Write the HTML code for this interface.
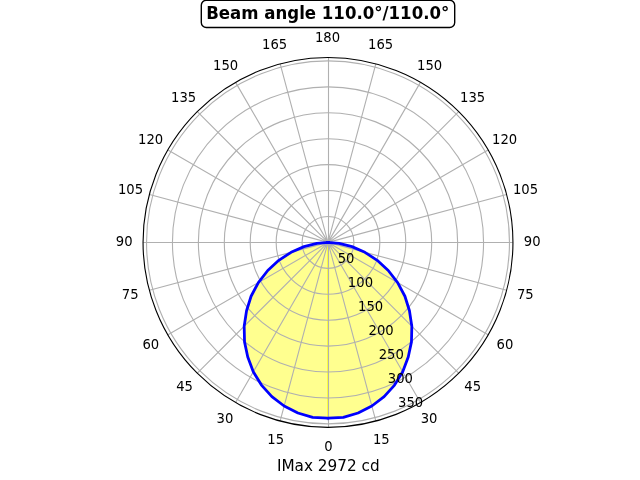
<!DOCTYPE html>
<html><head><meta charset="utf-8"><title>Beam angle</title>
<style>html,body{margin:0;padding:0;background:#fff}svg{display:block}text{font-family:"DejaVu Sans","Liberation Sans",sans-serif;fill:#000}</style></head><body>
<svg width="640" height="480" viewBox="0 0 640 480">
<rect width="640" height="480" fill="#fff"/>
<clipPath id="c"><circle cx="328.0" cy="242.4" r="184.8"/></clipPath>
<path d="M328.00 242.40 L316.87 243.37 L304.03 246.63 L291.10 252.29 L278.81 260.30 L267.74 270.50 L258.37 282.60 L251.08 296.26 L246.55 310.74 L244.18 326.22 L244.53 341.88 L247.76 357.00 L253.28 371.82 L261.46 385.10 L271.87 396.62 L284.16 406.02 L297.92 412.97 L312.69 417.43 L328.00 418.20 L343.31 417.43 L358.08 412.97 L371.84 406.02 L384.13 396.62 L394.54 385.10 L402.72 371.82 L408.24 357.00 L411.47 341.88 L411.82 326.22 L409.45 310.74 L404.92 296.26 L397.63 282.60 L388.26 270.50 L377.19 260.30 L364.90 252.29 L351.97 246.63 L339.13 243.37 L328.00 242.40Z" fill="#ffff00" fill-opacity="0.44" clip-path="url(#c)"/>
<path d="M328.0 242.4L328.00 418.20" stroke="#ffff00" stroke-opacity="0.9" stroke-width="1.39" fill="none"/>
<path d="M328.0 242.4L375.83 420.90M328.0 242.4L420.40 402.44M328.0 242.4L458.67 373.07M328.0 242.4L488.04 334.80M328.0 242.4L506.50 290.23M328.0 242.4L506.50 194.57M328.0 242.4L488.04 150.00M328.0 242.4L458.67 111.73M328.0 242.4L420.40 82.36M328.0 242.4L375.83 63.90M328.0 242.4L280.17 63.90M328.0 242.4L235.60 82.36M328.0 242.4L197.33 111.73M328.0 242.4L167.96 150.00M328.0 242.4L149.50 194.57M328.0 242.4L149.50 290.23M328.0 242.4L167.96 334.80M328.0 242.4L197.33 373.07M328.0 242.4L235.60 402.44M328.0 242.4L280.17 420.90M328.5 57.60V427.20M143.20 242.5H512.80" fill="none" stroke="#b0b0b0" stroke-width="1.11"/>
<circle cx="328.0" cy="242.4" r="25.93" fill="none" stroke="#b0b0b0" stroke-width="1.11"/>
<circle cx="328.0" cy="242.4" r="51.85" fill="none" stroke="#b0b0b0" stroke-width="1.11"/>
<circle cx="328.0" cy="242.4" r="77.78" fill="none" stroke="#b0b0b0" stroke-width="1.11"/>
<circle cx="328.0" cy="242.4" r="103.70" fill="none" stroke="#b0b0b0" stroke-width="1.11"/>
<circle cx="328.0" cy="242.4" r="129.63" fill="none" stroke="#b0b0b0" stroke-width="1.11"/>
<circle cx="328.0" cy="242.4" r="155.56" fill="none" stroke="#b0b0b0" stroke-width="1.11"/>
<circle cx="328.0" cy="242.4" r="181.48" fill="none" stroke="#b0b0b0" stroke-width="1.11"/>
<path d="M328.00 242.40 L316.87 243.37 L304.03 246.63 L291.10 252.29 L278.81 260.30 L267.74 270.50 L258.37 282.60 L251.08 296.26 L246.55 310.74 L244.18 326.22 L244.53 341.88 L247.76 357.00 L253.28 371.82 L261.46 385.10 L271.87 396.62 L284.16 406.02 L297.92 412.97 L312.69 417.43 L328.00 418.20 L343.31 417.43 L358.08 412.97 L371.84 406.02 L384.13 396.62 L394.54 385.10 L402.72 371.82 L408.24 357.00 L411.47 341.88 L411.82 326.22 L409.45 310.74 L404.92 296.26 L397.63 282.60 L388.26 270.50 L377.19 260.30 L364.90 252.29 L351.97 246.63 L339.13 243.37 L328.00 242.40" fill="none" stroke="#0000ff" stroke-width="2.78" stroke-linejoin="round" stroke-linecap="square" clip-path="url(#c)"/>
<path d="M326.40 419.40L329.60 419.40L328.00 420.25Z" fill="#0000ff"/>
<circle cx="328.0" cy="242.4" r="184.95" fill="none" stroke="#000" stroke-width="1.11"/>
<text transform="translate(328.50 450.98) scale(0.95 1.0)" font-size="13.89" text-anchor="middle">0</text>
<text transform="translate(381.36 443.52) scale(0.95 1.0)" font-size="13.89" text-anchor="middle">15</text>
<text transform="translate(429.12 422.61) scale(0.95 1.0)" font-size="13.89" text-anchor="middle">30</text>
<text transform="translate(472.67 390.66) scale(0.95 1.0)" font-size="13.89" text-anchor="middle">45</text>
<text transform="translate(504.88 348.85) scale(0.95 1.0)" font-size="13.89" text-anchor="middle">60</text>
<text transform="translate(525.28 298.59) scale(0.95 1.0)" font-size="13.89" text-anchor="middle">75</text>
<text transform="translate(532.24 245.73) scale(0.95 1.0)" font-size="13.89" text-anchor="middle">90</text>
<text transform="translate(525.53 193.87) scale(0.95 1.0)" font-size="13.89" text-anchor="middle">105</text>
<text transform="translate(504.63 143.61) scale(0.95 1.0)" font-size="13.89" text-anchor="middle">120</text>
<text transform="translate(472.67 101.81) scale(0.95 1.0)" font-size="13.89" text-anchor="middle">135</text>
<text transform="translate(429.62 69.85) scale(0.95 1.0)" font-size="13.89" text-anchor="middle">150</text>
<text transform="translate(380.61 48.95) scale(0.95 1.0)" font-size="13.89" text-anchor="middle">165</text>
<text transform="translate(327.50 41.99) scale(0.95 1.0)" font-size="13.89" text-anchor="middle">180</text>
<text transform="translate(274.64 48.95) scale(0.95 1.0)" font-size="13.89" text-anchor="middle">165</text>
<text transform="translate(225.63 69.85) scale(0.95 1.0)" font-size="13.89" text-anchor="middle">150</text>
<text transform="translate(183.58 101.81) scale(0.95 1.0)" font-size="13.89" text-anchor="middle">135</text>
<text transform="translate(150.62 143.61) scale(0.95 1.0)" font-size="13.89" text-anchor="middle">120</text>
<text transform="translate(130.47 193.87) scale(0.95 1.0)" font-size="13.89" text-anchor="middle">105</text>
<text transform="translate(124.26 245.73) scale(0.95 1.0)" font-size="13.89" text-anchor="middle">90</text>
<text transform="translate(130.22 298.59) scale(0.95 1.0)" font-size="13.89" text-anchor="middle">75</text>
<text transform="translate(150.87 348.85) scale(0.95 1.0)" font-size="13.89" text-anchor="middle">60</text>
<text transform="translate(184.58 390.66) scale(0.95 1.0)" font-size="13.89" text-anchor="middle">45</text>
<text transform="translate(224.88 422.61) scale(0.95 1.0)" font-size="13.89" text-anchor="middle">30</text>
<text transform="translate(275.64 443.52) scale(0.95 1.0)" font-size="13.89" text-anchor="middle">15</text>
<text transform="translate(328.25 470.53) scale(1.0 1.0)" font-size="15.28" text-anchor="middle">IMax 2972 cd</text>
<text transform="translate(337.68 262.99) scale(0.95 1.0)" font-size="13.89" text-anchor="start">50</text>
<text transform="translate(347.87 286.98) scale(0.95 1.0)" font-size="13.89" text-anchor="start">100</text>
<text transform="translate(358.05 310.96) scale(0.95 1.0)" font-size="13.89" text-anchor="start">150</text>
<text transform="translate(368.49 334.94) scale(0.95 1.0)" font-size="13.89" text-anchor="start">200</text>
<text transform="translate(378.67 358.93) scale(0.95 1.0)" font-size="13.89" text-anchor="start">250</text>
<text transform="translate(387.85 382.91) scale(0.95 1.0)" font-size="13.89" text-anchor="start">300</text>
<text transform="translate(398.04 406.89) scale(0.95 1.0)" font-size="13.89" text-anchor="start">350</text>
<rect x="201.30" y="0.30" width="253.40" height="27.20" rx="5" ry="5" fill="#fff" stroke="#000" stroke-width="1.39"/>
<text transform="translate(327.75 18.93) scale(0.995 1.04)" font-size="16.67" font-weight="bold" text-anchor="middle">Beam angle 110.0°/110.0°</text>
</svg></body></html>
